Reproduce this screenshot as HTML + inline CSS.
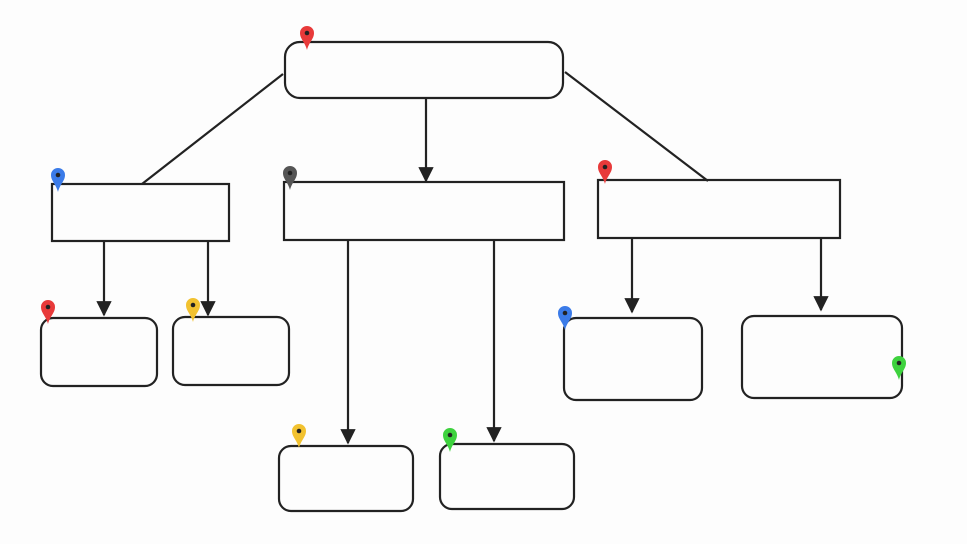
<!DOCTYPE html><html><head><style>body{margin:0;background:#fff}svg{display:block}</style></head><body>
<svg width="967" height="544" viewBox="0 0 967 544" xmlns="http://www.w3.org/2000/svg">
<defs>
<marker id="a" viewBox="0 0 10 10" refX="9" refY="5" markerWidth="7" markerHeight="7" orient="auto"><path d="M0,0L10,5L0,10z" fill="#222"/></marker>
<symbol id="p" viewBox="-8 -24 16 26"><path d="M0,2C-2,-6 -7,-9 -7,-15A7,7 0 1 1 7,-15C7,-9 2,-6 0,2z"/><circle cx="0" cy="-15" r="2.3" fill="#222"/></symbol>
</defs>
<rect width="967" height="544" fill="#fdfdfd"/>
<g fill="none" stroke="#222" stroke-width="2.2">
<rect x="285" y="42" width="278" height="56" rx="15"/>
<rect x="52" y="184" width="177" height="57"/>
<rect x="284" y="182" width="280" height="58"/>
<rect x="598" y="180" width="242" height="58"/>
<rect x="41" y="318" width="116" height="68" rx="12"/>
<rect x="173" y="317" width="116" height="68" rx="12"/>
<rect x="279" y="446" width="134" height="65" rx="12"/>
<rect x="440" y="444" width="134" height="65" rx="12"/>
<rect x="564" y="318" width="138" height="82" rx="12"/>
<rect x="742" y="316" width="160" height="82" rx="12"/>
<line x1="283" y1="74" x2="142" y2="184"/>
<line x1="565" y1="72" x2="708" y2="181"/>
<g marker-end="url(#a)">
<line x1="426" y1="98" x2="426" y2="181"/>
<line x1="104" y1="241" x2="104" y2="315"/>
<line x1="208" y1="241" x2="208" y2="315"/>
<line x1="348" y1="240" x2="348" y2="443"/>
<line x1="494" y1="240" x2="494" y2="441"/>
<line x1="632" y1="238" x2="632" y2="312"/>
<line x1="821" y1="238" x2="821" y2="310"/>
</g></g>
<use href="#p" x="299" y="24" width="16" height="26" fill="#e83a3a"/>
<use href="#p" x="50" y="166" width="16" height="26" fill="#3b7be8"/>
<use href="#p" x="282" y="164" width="16" height="26" fill="#555"/>
<use href="#p" x="597" y="158" width="16" height="26" fill="#e83a3a"/>
<use href="#p" x="40" y="298" width="16" height="26" fill="#e83a3a"/>
<use href="#p" x="185" y="296" width="16" height="26" fill="#f2c230"/>
<use href="#p" x="557" y="304" width="16" height="26" fill="#3b7be8"/>
<use href="#p" x="891" y="354" width="16" height="26" fill="#3ed23e"/>
<use href="#p" x="291" y="422" width="16" height="26" fill="#f2c230"/>
<use href="#p" x="442" y="426" width="16" height="26" fill="#3ed23e"/>
</svg></body></html>
